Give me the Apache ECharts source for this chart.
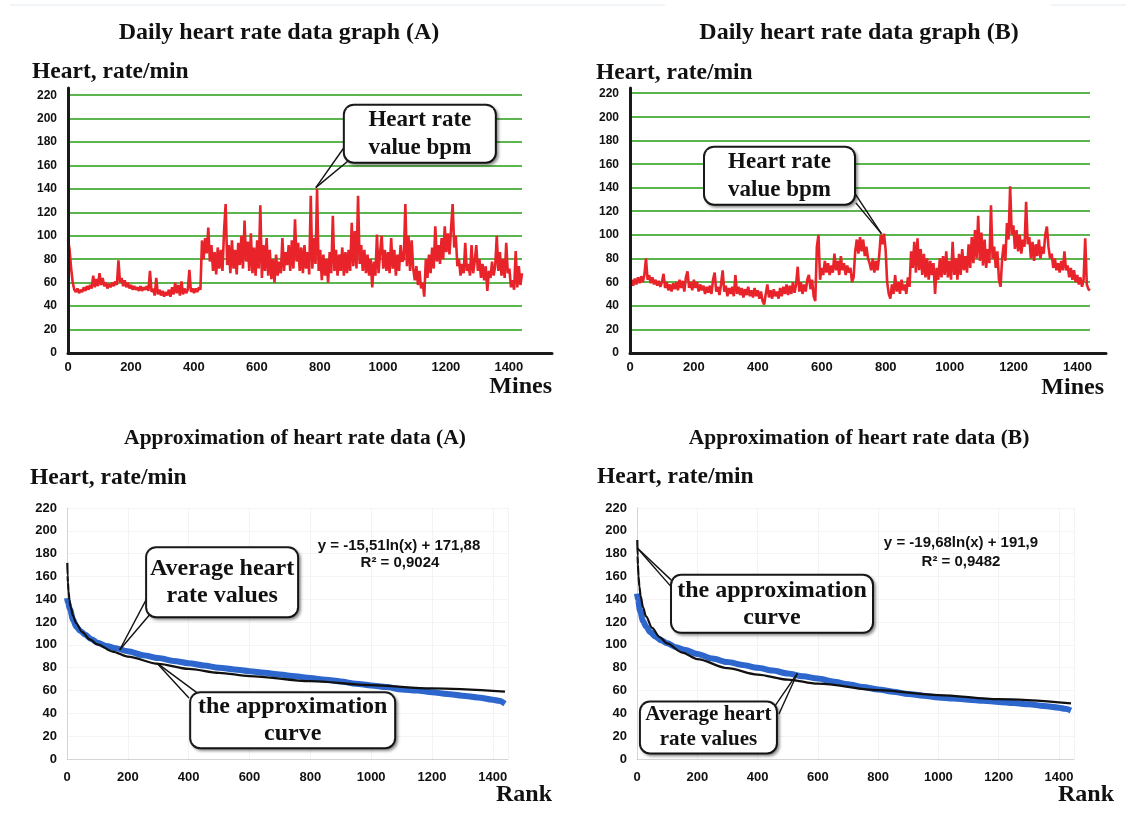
<!DOCTYPE html>
<html><head><meta charset="utf-8">
<script src="https://cdn.jsdelivr.net/npm/echarts@6/dist/echarts.min.js"></script>
<style>html,body{margin:0;padding:0;background:#fff}#c{width:1126px;height:820px}</style>
</head><body><div id="c"></div>
<script>
// ---------- DATA ----------
const MINUTE_STEP = 5; // one reading per 5 minutes
const xTicks = [0, 200, 400, 600, 800, 1000, 1200, 1400];
const yTicks = [0, 20, 40, 60, 80, 100, 120, 140, 160, 180, 200, 220];

// Daily heart rate (A), bpm
const hrA = [
  97,88,72,60,54,52,55,51,54,52,56,53,57,54,58,55,66,56,63,57,
  68,58,64,57,60,55,59,56,60,57,61,58,79,60,64,57,62,56,60,55,
  58,54,57,54,56,53,57,53,56,54,57,53,70,52,55,49,64,50,54,49,
  53,48,52,49,54,48,56,50,60,51,58,49,61,50,55,51,54,71,52,55,
  51,55,52,56,54,96,80,98,85,107,78,92,70,86,67,90,72,88,70,104,
  127,75,92,68,96,72,88,67,94,75,100,72,113,78,95,70,102,68,90,66,
  96,72,126,64,92,70,98,66,88,63,80,60,84,66,78,68,98,70,86,75,
  92,70,96,72,114,78,94,70,90,68,92,72,86,67,134,72,98,76,140,70,
  88,62,84,66,80,60,86,68,117,70,88,66,84,70,90,66,86,68,88,70,
  111,74,104,72,134,76,92,70,88,68,84,66,80,56,78,66,101,68,86,100,
  72,88,70,86,68,98,72,88,66,84,70,92,78,80,127,74,100,70,96,72,
  62,74,58,70,55,60,48,80,64,84,68,90,72,108,78,92,76,98,80,108,
  86,102,84,106,127,90,100,74,80,66,76,68,94,70,76,66,92,68,78,92,
  70,80,64,76,62,74,53,70,64,78,66,74,100,70,86,66,80,64,94,68,
  72,56,62,54,87,56,74,58,68
];
// Daily heart rate (B), bpm
const hrB = [
  55,62,57,63,58,64,59,65,60,66,80,62,66,59,64,58,62,57,61,56,
  60,67,55,60,53,58,52,59,54,60,53,62,55,61,52,64,69,55,60,53,
  62,55,60,52,58,53,57,50,56,51,57,50,62,68,52,56,49,58,70,52,
  57,48,55,50,56,48,66,50,56,49,55,47,54,49,56,48,53,47,55,48,
  53,46,52,44,41,50,58,47,53,46,54,48,52,46,55,48,56,50,58,49,
  57,50,60,51,58,73,52,60,50,58,52,62,66,54,62,48,44,90,100,62,
  72,66,78,68,76,66,74,68,84,70,78,66,82,70,76,66,74,68,72,60,
  64,86,96,84,98,86,96,82,90,80,76,70,80,68,78,70,82,100,92,101,
  88,60,50,46,58,50,66,52,60,50,62,53,58,50,64,56,86,72,94,68,
  97,70,88,66,84,64,80,62,78,66,76,50,72,62,80,64,82,66,86,64,
  78,62,94,66,80,62,84,66,88,70,82,68,92,72,98,76,104,80,116,78,
  102,74,96,72,88,76,125,80,90,72,86,62,56,80,92,78,110,96,141,100,
  108,88,104,86,100,84,96,90,128,92,98,80,94,78,92,82,96,80,90,84,
  100,107,90,80,84,72,80,70,76,68,78,70,86,70,74,64,72,62,70,60,
  66,58,64,56,62,97,58,54,53
];

// Ranked (sorted) heart-rate values
const rankPts = [0,3,10,20,30,45,60,80,100,130,160,200,250,300,350,400,450,500,550,600,650,700,750,800,850,900,950,1000,1050,1100,1150,1200,1250,1300,1350,1400,1420,1440];
const avgA = [141,137,131,122,116,112,109,105,102,99,97,94.5,91,88.5,86,84,82,80,78.5,77,75.5,74,72.5,71,69.5,68,66,64.5,63,61,60,58.5,57,55.5,54,52,51,48.5];
const avgB = [145,140,130,121,116,111,107.5,104,101.5,98,95.5,92,88,85,82.5,80,77.5,75,72.5,70.5,68,65.5,63,61,59,57,55.5,54,53,52,51,50,49,48,46.5,45,44,42.5];

// Approximation curves, values
const fitRank = [1,2,3,5,8,12,20,30,50,75,100,150,200,300,400,500,600,800,1000,1200,1440];
const fitA = [171.9,161.1,154.8,146.9,139.6,133.3,125.4,119.1,111.2,104.9,100.5,94.2,89.7,83.4,79.0,75.5,72.7,68.2,64.7,61.9,59.1];
const fitB = [191.9,178.3,170.3,160.2,151.0,143.0,132.9,125.0,114.9,106.9,101.3,93.3,87.6,79.6,74.0,69.6,66.0,60.3,56.0,52.4,48.8];

// Texts
const titles = ['Daily heart rate data graph (A)', 'Daily heart rate data graph (B)',
                'Approximation of heart rate data (A)', 'Approximation of heart rate data (B)'];
const yName = 'Heart, rate/min';
const eqA = ['y = -15,51ln(x) + 171,88', 'R² = 0,9024'];
const eqB = ['y = -19,68ln(x) + 191,9', 'R² = 0,9482'];

// ---------- LAYOUT / STYLE ----------
const SERIF = '"Liberation Serif", "Times New Roman", serif';
const SANS = '"Liberation Sans", Arial, sans-serif';
const RED = '#e8242a', GREEN = '#5db54f', BLUE = '#2d66cc';

const minutes = hrA.map((_, i) => i * MINUTE_STEP);
const pairs = (xs, ys) => ys.map((v, i) => [xs[i], v]);

// callout anchors in data coordinates
const notes = {
  A:  { box: [1116, 187], ptr: [[[875,175],[786,141]], [[894,165],[786,141]]] },
  B:  { box: [468, 150],  ptr: [[[704,135],[787,101]], [[707,127],[787,101]]] },
  Cavg: { box: [510, 155], ptr: [[[263,141],[173,95.5]], [[280,129],[173,95.5]]] },
  Cfit: { box: [742, 34],  ptr: [[[401,53.5],[296,84]], [[428,58],[296,84]]] },
  Dfit: { box: [448, 136], ptr: [[[113,157],[1,185]], [[123,148],[1,185]]] },
  Davg: { box: [237, 27.6], ptr: [[[458,46.5],[532,75]], [[471,39.4],[532,75]]] }
};

function boxLabel(text, w, fs, lh, padV) {
  return {
    show: true, position: 'inside', formatter: text,
    color: '#111', fontFamily: SERIF, fontWeight: 'bold', fontSize: fs, lineHeight: lh,
    width: w, align: 'center', padding: [padV, 0],
    backgroundColor: '#fff', borderColor: '#1a1a1a', borderWidth: 2, borderRadius: 9,
    shadowColor: 'rgba(0,0,0,0.35)', shadowBlur: 3, shadowOffsetX: 2, shadowOffsetY: 2
  };
}
function markPoints(list) {
  return {
    z: 10, silent: true, animation: false,
    symbol: 'circle', symbolSize: 1, itemStyle: { color: 'rgba(0,0,0,0)' },
    data: list.map(o => ({ coord: o.coord, label: o.label }))
  };
}
function markLines(ptrs) {
  return {
    z: 6, silent: true, animation: false, symbol: ['none', 'none'],
    label: { show: false }, emphasis: { disabled: true },
    lineStyle: { color: '#111', width: 1.4, type: 'solid' },
    data: ptrs.map(p => [{ coord: p[0] }, { coord: p[1] }])
  };
}

function frameX(g, max) {
  return { gridIndex: g, type: 'value', min: 0, max: max, interval: 200, z: 5,
    axisLine: { show: true, onZero: false, lineStyle: { color: '#1a1a1a', width: 3 } },
    axisTick: { show: false }, splitLine: { show: false },
    axisLabel: { fontFamily: SANS, fontWeight: 'bold', fontSize: 13, color: '#111', margin: 8,
      formatter: v => (xTicks.indexOf(v) >= 0 ? String(v) : '') } };
}
function frameY(g, max) {
  return { gridIndex: g, type: 'value', min: 0, max: max, interval: 20, z: 5,
    axisLine: { show: true, onZero: false, lineStyle: { color: '#1a1a1a', width: 3 } },
    axisTick: { show: false }, splitLine: { show: false },
    axisLabel: { fontFamily: SANS, fontWeight: 'bold', fontSize: 12, color: '#111', margin: 11,
      formatter: v => (yTicks.indexOf(v) >= 0 ? String(v) : '') } };
}
function dataX(g) { return { gridIndex: g, type: 'value', min: 0, max: 1440, show: false }; }
function dataY(g) {
  return { gridIndex: g, type: 'value', min: 0, max: 220, interval: 20,
    axisLine: { show: false }, axisTick: { show: false }, axisLabel: { show: false },
    splitLine: { show: true, lineStyle: { color: GREEN, width: 2 } } };
}
function rankX(g) {
  return { gridIndex: g, type: 'value', min: 0, max: 1450, interval: 200,
    axisLine: { show: true, lineStyle: { color: '#d4d4d4', width: 1 } }, axisTick: { show: false },
    splitLine: { show: true, lineStyle: { color: '#f3f3f3', width: 1 } },
    axisLabel: { fontFamily: SANS, fontWeight: 'bold', fontSize: 13, color: '#111', margin: 12,
      formatter: v => (xTicks.indexOf(v) >= 0 ? String(v) : '') } };
}
function rankY(g) {
  return { gridIndex: g, type: 'value', min: 0, max: 220, interval: 20,
    axisLine: { show: true, lineStyle: { color: '#d4d4d4', width: 1 } }, axisTick: { show: false },
    splitLine: { show: true, lineStyle: { color: '#f4f4f4', width: 1 } },
    axisLabel: { fontFamily: SANS, fontWeight: 'bold', fontSize: 13, color: '#111', margin: 10,
      formatter: v => (yTicks.indexOf(v) >= 0 ? String(v) : '') } };
}

function txt(text, x, y, font, align) {
  return { type: 'text', x: x, y: y, z: 100, zlevel: 0, silent: true,
    style: { text: text, font: font, fill: '#111', align: align, verticalAlign: 'middle',
             textAlign: align, textVerticalAlign: 'middle' } };
}
const TF = 'bold 24px ' + SERIF;
const TF2 = 'bold 21.5px ' + SERIF;
const HF = 'bold 23.5px ' + SERIF;
const NF = 'bold 24px ' + SERIF;
const EF = 'bold 15px ' + SANS;

const option = {
  animation: false,
  backgroundColor: '#fff',
  grid: [
    { left: 68, top: 88, width: 484, height: 265 },   // 0 frame A
    { left: 68, top: 95, width: 454, height: 258 },   // 1 data A
    { left: 630, top: 88, width: 476, height: 265 },  // 2 frame B
    { left: 630, top: 93, width: 460, height: 260 },  // 3 data B
    { left: 67, top: 508, width: 441, height: 251 },  // 4 rank A
    { left: 637, top: 508, width: 437, height: 251 }  // 5 rank B
  ],
  xAxis: [frameX(0, 1537), dataX(1), frameX(2, 1489), dataX(3), rankX(4), rankX(5)],
  yAxis: [frameY(0, 226.2), dataY(1), frameY(2, 224.8), dataY(3), rankY(4), rankY(5)],
  series: [
    { type: 'line', xAxisIndex: 1, yAxisIndex: 1, data: pairs(minutes, hrA), showSymbol: false,
      lineStyle: { color: RED, width: 2.6 }, itemStyle: { color: RED },
      markLine: markLines(notes.A.ptr),
      markPoint: markPoints([{ coord: notes.A.box, label: boxLabel('Heart rate\nvalue bpm', 150, 23, 28, 0) }]) },
    { type: 'line', xAxisIndex: 3, yAxisIndex: 3, data: pairs(minutes, hrB), showSymbol: false,
      lineStyle: { color: RED, width: 2.6 }, itemStyle: { color: RED },
      markLine: markLines(notes.B.ptr),
      markPoint: markPoints([{ coord: notes.B.box, label: boxLabel('Heart rate\nvalue bpm', 149, 23, 28, 0) }]) },
    { type: 'line', xAxisIndex: 4, yAxisIndex: 4, data: pairs(rankPts, avgA), showSymbol: false,
      smooth: 0.3, smoothMonotone: 'x', lineStyle: { color: BLUE, width: 6 }, itemStyle: { color: BLUE } },
    { type: 'line', xAxisIndex: 4, yAxisIndex: 4, data: pairs(fitRank, fitA), showSymbol: false,
      smooth: 0.3, smoothMonotone: 'x', lineStyle: { color: '#111', width: 2.2 }, itemStyle: { color: '#111' },
      markLine: markLines(notes.Cavg.ptr.concat(notes.Cfit.ptr)),
      markPoint: markPoints([
        { coord: notes.Cavg.box, label: boxLabel('Average heart\nrate values', 150, 24, 27, 7) },
        { coord: notes.Cfit.box, label: boxLabel('the approximation\ncurve', 203, 24, 27, 0) }]) },
    { type: 'line', xAxisIndex: 5, yAxisIndex: 5, data: pairs(rankPts, avgB), showSymbol: false,
      smooth: 0.3, smoothMonotone: 'x', lineStyle: { color: BLUE, width: 6 }, itemStyle: { color: BLUE } },
    { type: 'line', xAxisIndex: 5, yAxisIndex: 5, data: pairs(fitRank, fitB), showSymbol: false,
      smooth: 0.3, smoothMonotone: 'x', lineStyle: { color: '#111', width: 2.2 }, itemStyle: { color: '#111' },
      markLine: markLines(notes.Dfit.ptr.concat(notes.Davg.ptr)),
      markPoint: markPoints([
        { coord: notes.Dfit.box, label: boxLabel('the approximation\ncurve', 200, 24, 27, 1) },
        { coord: notes.Davg.box, label: boxLabel('Average heart\nrate values', 135, 21, 25, 0) }]) }
  ],
  graphic: { elements: [
    { type: 'line', silent: true, shape: { x1: 10, y1: 5, x2: 665, y2: 5 }, style: { stroke: '#e4eaee', lineWidth: 1 } },
    { type: 'line', silent: true, shape: { x1: 1051, y1: 5, x2: 1126, y2: 5 }, style: { stroke: '#e4eaee', lineWidth: 1 } },
    txt(titles[0], 279, 33, TF, 'center'),
    txt(titles[1], 859, 33, TF, 'center'),
    txt(titles[2], 295, 438, TF2, 'center'),
    txt(titles[3], 859, 438, TF2, 'center'),
    txt(yName, 32, 72, HF, 'left'),
    txt(yName, 596, 73, HF, 'left'),
    txt(yName, 30, 478, HF, 'left'),
    txt(yName, 597, 477, HF, 'left'),
    txt('Mines', 552, 387, NF, 'right'),
    txt('Mines', 1104, 388, NF, 'right'),
    txt('Rank', 552, 795, NF, 'right'),
    txt('Rank', 1114, 795, NF, 'right'),
    txt(eqA[0], 399, 546, EF, 'center'),
    txt(eqA[1], 400, 563, EF, 'center'),
    txt(eqB[0], 961, 543, EF, 'center'),
    txt(eqB[1], 961, 562, EF, 'center')
  ] }
};

const chart = echarts.init(document.getElementById('c'), null, { renderer: 'canvas' });
chart.setOption(option);
</script></body></html>
